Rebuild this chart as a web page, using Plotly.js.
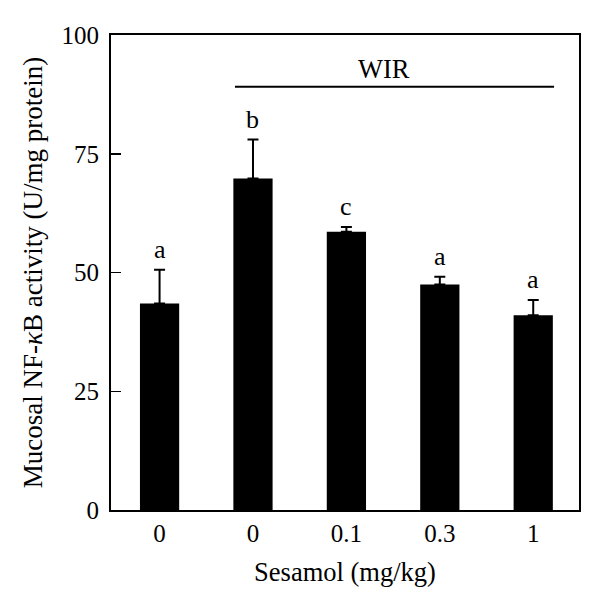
<!DOCTYPE html>
<html>
<head>
<meta charset="utf-8">
<script src="https://cdn.plot.ly/plotly-3.0.1.min.js"></script>
<style>html,body{margin:0;padding:0;background:#fff;}#chart{width:600px;height:614px;}</style>
</head>
<body>
<div id="chart"></div>
<script>
const doseLabels = ['0', '0', '0.1', '0.3', '1'];
const groupIndex = [0, 1, 2, 3, 4];
const meanValues = [43.5, 69.8, 58.6, 47.5, 41.0];
const errorPlus = [7.1, 8.2, 1.0, 1.6, 3.2];
const sigLetters = ['a', 'b', 'c', 'a', 'a'];
const wirGroupStart = 0.807;
const wirGroupEnd = 4.223;
const wirLevel = 89.1;

const FONT = 'Liberation Serif, Times New Roman, serif';

const trace = {
  type: 'bar',
  x: groupIndex,
  y: meanValues,
  width: 0.42,
  marker: {color: '#000', line: {width: 0}},
  error_y: {type: 'data', array: errorPlus, arrayminus: errorPlus.map(() => 0), symmetric: false,
            color: '#000', thickness: 2, width: 5.5},
  hoverinfo: 'none'
};

const annotations = groupIndex.map((g, i) => ({
  x: g, y: meanValues[i] + errorPlus[i], xref: 'x', yref: 'y',
  text: sigLetters[i], showarrow: false, yanchor: 'bottom', yshift: 4,
  font: {family: FONT, size: 26, color: '#000'}
}));
annotations.push({
  x: (wirGroupStart + wirGroupEnd) / 2 - 0.11, y: wirLevel, xref: 'x', yref: 'y',
  text: 'WIR', showarrow: false, yanchor: 'bottom', yshift: 1,
  font: {family: FONT, size: 26.5, color: '#000'}
});

const layout = {
  width: 600, height: 614,
  margin: {l: 111, r: 21, t: 35, b: 104},
  paper_bgcolor: '#fff', plot_bgcolor: '#fff',
  showlegend: false,
  font: {family: FONT, size: 25, color: '#000'},
  xaxis: {
    range: [-0.52, 4.49],
    tickvals: groupIndex, ticktext: doseLabels,
    ticks: '', showgrid: false, zeroline: false,
    showline: true, linecolor: '#000', linewidth: 2, mirror: true,
    tickfont: {family: FONT, size: 25, color: '#000'},
    title: {text: 'Sesamol (mg/kg)', font: {family: FONT, size: 26.5, color: '#000'}, standoff: 16}
  },
  yaxis: {
    range: [0, 100],
    tickvals: [0, 25, 50, 75, 100],
    ticks: 'inside', ticklen: 10, tickwidth: 1.5, tickcolor: '#000',
    ticklabelstandoff: 5,
    showgrid: false, zeroline: false,
    showline: true, linecolor: '#000', linewidth: 2, mirror: true,
    tickfont: {family: FONT, size: 25, color: '#000'},
    title: {text: 'Mucosal NF-<i>κ</i>B activity (U/mg protein)', font: {family: FONT, size: 27, color: '#000'}, standoff: 11}
  },
  shapes: [{
    type: 'line', xref: 'x', yref: 'y',
    x0: wirGroupStart, x1: wirGroupEnd, y0: wirLevel, y1: wirLevel,
    line: {color: '#000', width: 2}
  }],
  annotations: annotations
};

Plotly.newPlot('chart', [trace], layout, {displayModeBar: false, staticPlot: true});
</script>
</body>
</html>
